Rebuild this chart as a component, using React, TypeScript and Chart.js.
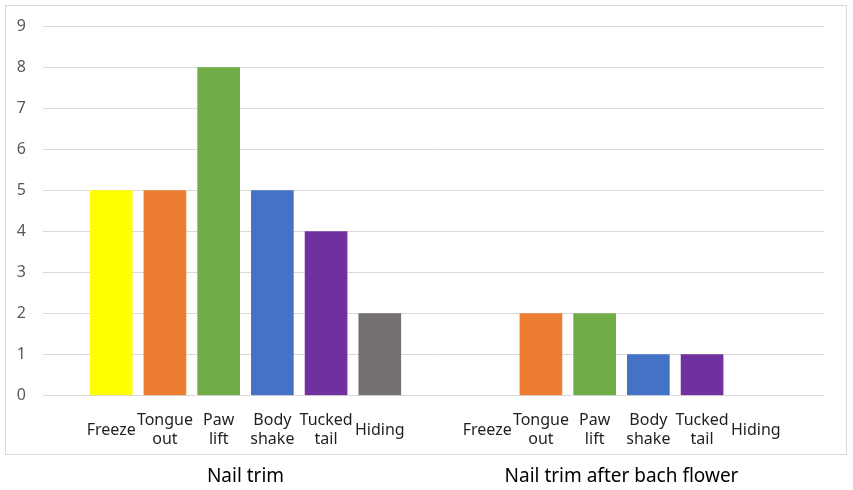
import React, { useEffect, useRef } from "react";
import { Chart, registerables } from "chart.js";

Chart.register(...registerables);

const categories: string[][] = [
  ["Freeze"],
  ["Tongue", "out"],
  ["Paw", "lift"],
  ["Body", "shake"],
  ["Tucked", "tail"],
  ["Hiding"],
];
const groups = ["Nail trim", "Nail trim after bach flower"];
const nailTrim = [5, 5, 8, 5, 4, 2];
const afterBach = [0, 2, 2, 1, 1, 0];
const barColors = ["#FFFF00", "#ED7D31", "#70AD47", "#4472C4", "#7030A0", "#767171"];
const yTicks = [0, 1, 2, 3, 4, 5, 6, 7, 8, 9];

const GROUP_STRIDE = categories.length + 1;

export default function App() {
  const ref = useRef<HTMLCanvasElement | null>(null);

  useEffect(() => {
    if (!ref.current) return;
    const series = [nailTrim, afterBach];
    const points: { x: number; y: number }[] = [];
    const colors: string[] = [];
    const tickPositions: number[] = [];
    const tickLabels: Record<string, string[]> = {};
    series.forEach((vals, g) => {
      vals.forEach((v, i) => {
        const pos = g * GROUP_STRIDE + i;
        points.push({ x: pos, y: v });
        colors.push(v === 0 ? "rgba(0,0,0,0)" : barColors[i]);
        tickPositions.push(pos);
        tickLabels[String(pos)] = categories[i];
      });
    });
    const groupPositions = groups.map(
      (_, g) => g * GROUP_STRIDE + (categories.length - 1) / 2
    );
    const groupLabelMap: Record<string, string> = {};
    groupPositions.forEach((p, g) => (groupLabelMap[String(p)] = groups[g]));
    const xMin = -1.27;
    const xMax = GROUP_STRIDE * 2 - 2 + 1.27;

    const borderPlugin = {
      id: "frame",
      beforeDraw(chart: any) {
        const ctx = chart.ctx;
        ctx.save();
        ctx.fillStyle = "#ffffff";
        ctx.fillRect(0, 0, chart.width, chart.height);
        ctx.strokeStyle = "#d9d9d9";
        ctx.lineWidth = 1;
        ctx.strokeRect(5.5, 5.5, 841, 449);
        ctx.restore();
      },
    };

    const chart = new Chart(ref.current, {
      type: "bar",
      data: {
        datasets: [
          {
            data: points as any,
            backgroundColor: colors,
            barThickness: 42,
            xAxisID: "x",
            yAxisID: "y",
          },
        ],
      },
      options: {
        animation: false,
        responsive: false,
        layout: { padding: { left: 0, right: 29, top: 26, bottom: 0 } },
        plugins: { legend: { display: false }, tooltip: { enabled: false } },
        scales: {
          x: {
            type: "linear",
            position: "bottom",
            weight: 0,
            offset: false,
            min: xMin,
            max: xMax,
            grid: { display: false, drawTicks: false, offset: false },
            border: { display: false },
            afterBuildTicks(scale: any) {
              scale.ticks = tickPositions.map((v) => ({ value: v }));
            },
            afterFit(scale: any) {
              scale.height = 60;
            },
            ticks: {
              autoSkip: false,
              maxRotation: 0,
              minRotation: 0,
              padding: 25,
              crossAlign: "center",
              color: "#1f1f1f",
              font: { family: "'Noto Sans', sans-serif", size: 16, lineHeight: 1.18 },
              callback: (value: any) => tickLabels[String(value)] ?? "",
            },
          },
          x2: {
            type: "linear",
            axis: "x",
            position: "bottom",
            weight: 1,
            offset: false,
            min: xMin,
            max: xMax,
            grid: { display: false, drawTicks: false, offset: false },
            border: { display: false },
            afterBuildTicks(scale: any) {
              scale.ticks = groupPositions.map((v) => ({ value: v }));
            },
            afterFit(scale: any) {
              scale.height = 34.5;
            },
            ticks: {
              autoSkip: false,
              maxRotation: 0,
              minRotation: 0,
              padding: 10,
              color: "#000000",
              font: { family: "'Noto Sans', sans-serif", size: 19, lineHeight: 1.2 },
              callback: (value: any) => groupLabelMap[String(value)] ?? "",
            },
          },
          y: {
            type: "linear",
            min: 0,
            max: 9,
            afterBuildTicks(scale: any) {
              scale.ticks = yTicks.map((v) => ({ value: v }));
            },
            afterFit(scale: any) {
              scale.width = 43;
            },
            grid: { color: "#d9d9d9", lineWidth: 1, drawTicks: false },
            border: { display: false },
            ticks: {
              padding: 17,
              color: "#595959",
              font: { family: "'Noto Sans', sans-serif", size: 16 },
            },
          },
        },
      },
      plugins: [borderPlugin],
    });
    return () => chart.destroy();
  }, []);

  return (
    <div style={{ position: "absolute", left: 0, top: 0, width: 853, height: 490, background: "#fff" }}>
      <canvas ref={ref} width={853} height={490} />
    </div>
  );
}
